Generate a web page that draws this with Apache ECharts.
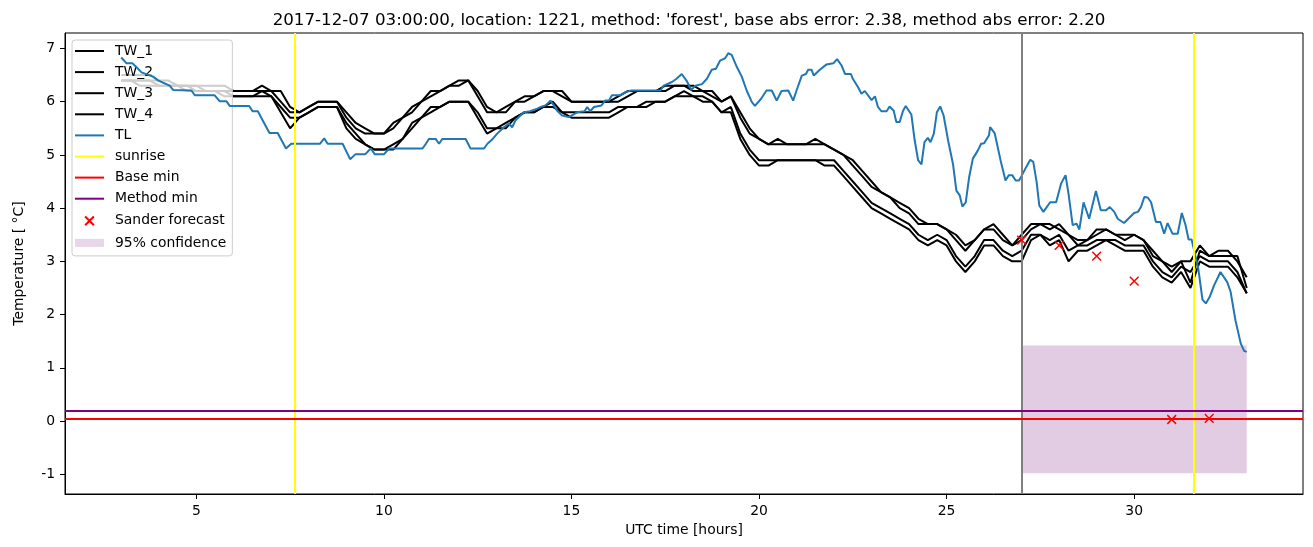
<!DOCTYPE html>
<html><head><meta charset="utf-8">
<script src="https://cdn.jsdelivr.net/npm/echarts@6/dist/echarts.min.js"></script>
<style>html,body{margin:0;padding:0;background:#fff}#c{width:1313px;height:547px}</style>
</head><body><div id="c"></div>
<script>
// ---- data ----
const twStart = 3, twStep = 0.25; // TW sampling: every 15 min from 03 h
const tw1 = [6.5,6.5,6.5,6.5, 6.4,6.4,6.3,6.3, 6.3,6.3,6.3,6.3, 6.2,6.2,6.2,6.3, 6.2,6.2,5.9,5.8,
  5.9,6.0,6.0,6.0, 5.7,5.5,5.4,5.4, 5.4,5.6,5.7,5.9, 6.0,6.2,6.2,6.3, 6.4,6.4,6.1,5.8,
  5.8,5.9,6.0,6.1, 6.1,6.2,6.2,6.1, 6.0,6.0,6.0,6.0, 6.0,6.1,6.2,6.2, 6.2,6.2,6.3,6.3,
  6.3,6.2,6.2,6.1, 6.0,6.1,5.7,5.4, 5.3,5.2,5.3,5.2, 5.2,5.2,5.3,5.2, 5.1,5.0,4.8,4.6,
  4.4,4.3,4.2,4.0, 3.9,3.7,3.7,3.7, 3.6,3.4,3.2,3.4, 3.6,3.6,3.4,3.3, 3.5,3.7,3.7,3.6,
  3.7,3.5,3.4,3.4, 3.6,3.6,3.5,3.5, 3.5,3.4,3.1,3.0, 2.8,3.0,3.0,3.3, 3.1,3.2,3.2,3.0, 2.7];
const tw2 = [6.4,6.4,6.4,6.4, 6.4,6.3,6.3,6.3, 6.2,6.2,6.2,6.2, 6.2,6.2,6.2,6.2, 6.2,6.0,5.8,5.8,
  5.9,6.0,6.0,6.0, 5.8,5.6,5.5,5.4, 5.4,5.5,5.7,5.8, 6.0,6.1,6.2,6.3, 6.3,6.4,6.2,5.9,
  5.8,5.8,6.0,6.0, 6.1,6.2,6.2,6.2, 6.0,6.0,6.0,6.0, 6.0,6.0,6.1,6.2, 6.2,6.2,6.2,6.3,
  6.3,6.3,6.2,6.2, 6.0,6.1,5.8,5.5, 5.3,5.2,5.2,5.2, 5.2,5.2,5.2,5.2, 5.1,5.0,4.9,4.7,
  4.5,4.3,4.2,4.1, 4.0,3.8,3.7,3.7, 3.6,3.5,3.3,3.4, 3.6,3.7,3.5,3.3, 3.4,3.6,3.7,3.7,
  3.6,3.5,3.3,3.4, 3.5,3.6,3.5,3.4, 3.5,3.4,3.2,3.0, 2.9,3.0,2.6,3.2, 3.1,3.1,3.1,3.1, 2.5];
const tw3 = [6.4,6.4,6.4,6.4, 6.3,6.3,6.3,6.3, 6.3,6.2,6.2,6.2, 6.1,6.1,6.1,6.2, 6.1,5.9,5.7,5.7,
  5.8,5.9,5.9,5.9, 5.6,5.4,5.2,5.1, 5.1,5.2,5.3,5.6, 5.7,5.9,5.9,6.0, 6.0,6.0,5.8,5.5,
  5.5,5.6,5.7,5.8, 5.8,5.9,6.0,5.8, 5.8,5.8,5.8,5.8, 5.8,5.9,5.9,5.9, 6.0,6.0,6.0,6.1,
  6.2,6.1,6.1,6.0, 5.8,5.9,5.4,5.1, 4.9,4.9,4.9,4.9, 4.9,4.9,4.9,4.9, 4.9,4.7,4.5,4.3,
  4.1,4.0,3.9,3.8, 3.7,3.5,3.4,3.5, 3.4,3.1,2.9,3.1, 3.4,3.4,3.2,3.1, 3.2,3.5,3.5,3.4,
  3.5,3.2,3.3,3.3, 3.4,3.4,3.4,3.3, 3.3,3.3,3.0,2.8, 2.7,2.9,2.8,3.1, 3.0,3.0,3.0,2.8, 2.4];
const tw4 = [6.4,6.4,6.3,6.3, 6.3,6.3,6.3,6.2, 6.2,6.2,6.2,6.1, 6.1,6.1,6.1,6.1, 6.1,5.8,5.5,5.7,
  5.8,5.9,5.9,5.9, 5.5,5.3,5.2,5.1, 5.1,5.1,5.3,5.5, 5.7,5.8,5.9,6.0, 6.0,6.0,5.7,5.4,
  5.5,5.5,5.7,5.8, 5.8,5.9,5.9,5.8, 5.7,5.7,5.7,5.7, 5.7,5.8,5.9,5.9, 5.9,6.0,6.0,6.1,
  6.1,6.1,6.0,6.0, 5.8,5.8,5.3,5.0, 4.8,4.8,4.9,4.9, 4.9,4.9,4.9,4.8, 4.8,4.6,4.4,4.2,
  4.0,3.9,3.8,3.7, 3.6,3.4,3.3,3.4, 3.3,3.0,2.8,3.0, 3.3,3.3,3.1,3.0, 3.0,3.4,3.5,3.3,
  3.4,3.0,3.2,3.2, 3.3,3.4,3.3,3.2, 3.2,3.2,2.9,2.7, 2.6,2.8,2.5,3.0, 2.9,2.9,2.9,2.7, 2.4];
const tlHours = [3.0,3.14,3.3,3.4,3.54,3.85,3.98,4.29,4.38,4.87,4.96,5.49,5.62,5.8,5.89,6.41,6.5,6.64,6.8,6.95,
  7.17,7.39,7.53,8.3,8.41,8.5,8.9,9.1,9.24,9.5,9.65,9.76,10.0,10.14,11.03,11.12,11.2,11.38,11.47,11.56,
  12.18,12.31,12.67,12.76,12.9,13.02,13.2,13.33,13.42,13.51,13.64,13.73,13.9,14.09,14.18,14.31,14.44,14.53,14.62,14.75,
  14.93,15.15,15.35,15.42,15.5,15.6,15.8,15.9,16.0,16.08,16.3,16.44,16.6,17.37,17.46,17.68,17.8,17.94,18.08,18.2,
  18.3,18.48,18.61,18.74,18.85,18.96,19.1,19.18,19.27,19.41,19.54,19.67,19.81,19.89,20.05,20.2,20.34,20.47,20.6,20.78,
  20.91,21.0,21.14,21.25,21.31,21.4,21.46,21.62,21.8,21.98,22.08,22.2,22.29,22.45,22.5,22.64,22.73,22.82,23.0,23.09,
  23.17,23.26,23.4,23.48,23.59,23.66,23.75,23.84,23.91,24.06,24.15,24.24,24.33,24.41,24.5,24.57,24.66,24.74,24.83,24.92,
  25.04,25.17,25.26,25.35,25.42,25.51,25.6,25.7,25.83,25.92,26.0,26.13,26.16,26.28,26.37,26.45,26.57,26.66,26.75,26.84,
  26.93,27.01,27.12,27.23,27.31,27.4,27.47,27.58,27.76,27.92,28.05,28.17,28.25,28.36,28.46,28.54,28.65,28.8,28.98,29.11,
  29.25,29.35,29.47,29.56,29.73,29.87,30.0,30.1,30.18,30.27,30.36,30.45,30.58,30.7,30.8,30.89,31.02,31.16,31.27,31.37,
  31.45,31.53,31.64,31.71,31.82,31.91,32.01,32.13,32.3,32.48,32.57,32.7,32.84,32.93,33.0];
const tlValues = [6.83,6.72,6.72,6.65,6.55,6.47,6.4,6.3,6.22,6.21,6.12,6.12,6.01,6.01,5.92,5.92,5.82,5.82,5.61,5.41,
  5.41,5.12,5.21,5.21,5.31,5.21,5.21,4.92,5.01,5.01,5.12,5.01,5.01,5.12,5.12,5.21,5.3,5.3,5.21,5.3,
  5.3,5.12,5.12,5.21,5.3,5.4,5.52,5.59,5.52,5.65,5.74,5.8,5.82,5.87,5.9,5.93,6.02,5.93,5.83,5.74,
  5.71,5.8,5.82,5.9,5.82,5.9,5.93,6.02,6.02,6.12,6.12,6.18,6.21,6.21,6.3,6.37,6.43,6.52,6.38,6.22,
  6.3,6.33,6.43,6.6,6.62,6.77,6.82,6.91,6.88,6.65,6.47,6.21,5.99,5.92,6.05,6.21,6.21,6.02,6.2,6.21,
  6.02,6.21,6.49,6.52,6.6,6.6,6.49,6.6,6.7,6.72,6.8,6.68,6.52,6.52,6.43,6.27,6.15,6.2,6.03,6.1,
  5.9,5.82,5.82,5.91,5.83,5.62,5.62,5.83,5.92,5.76,5.27,4.9,4.82,5.24,5.32,5.24,5.4,5.8,5.91,5.74,
  5.27,4.83,4.33,4.24,4.03,4.11,4.58,4.93,5.08,5.21,5.22,5.37,5.52,5.41,5.12,4.86,4.52,4.62,4.62,4.52,
  4.52,4.62,4.77,4.91,4.87,4.49,4.05,3.93,4.11,4.11,4.46,4.62,4.27,3.68,3.71,3.6,4.11,3.8,4.32,3.96,
  3.96,4.02,3.93,3.8,3.72,3.82,3.91,3.93,4.02,4.21,4.2,4.11,3.74,3.74,3.52,3.72,3.52,3.52,3.91,3.68,
  3.41,3.41,3.08,2.86,2.28,2.21,2.33,2.55,2.8,2.61,2.43,1.89,1.46,1.32,1.3];
const sunriseHours = [7.63, 31.6];
const forecastStartHour = [27.0];
const baseMin = [0.04];
const methodMin = [0.2];
const sanderHours = [27, 28, 29, 30, 31, 32];
const sanderValues = [3.4, 3.3, 3.1, 2.63, 0.03, 0.05];
const confHours = [27.0, 33.0];
const confRange = [-0.98, 1.42];
const xTicks = [5, 10, 15, 20, 25, 30];
const yTicks = [-1, 0, 1, 2, 3, 4, 5, 6, 7];

// ---- chart ----
const FONT = 'DejaVu Sans';
const FS = 13.9;
const LW = 2;
const twSeries = [tw1, tw2, tw3, tw4].map((arr, k) => ({
  name: 'TW_' + (k + 1), type: 'line', symbol: 'none', z: 3,
  itemStyle: {color: '#000'}, lineStyle: {color: '#000', width: LW},
  data: arr.map((v, i) => [twStart + i * twStep, v])
}));
const crossPath = 'path://M-7,-7M0,0L10,10M10,0L0,10M17,17';
const crossLegend = 'path://M-3,-3M0,0L10,10M10,0L0,10M13,13';
const lineIcon = 'path://M0,0M0,6L29,6L29,8L0,8ZM29,14';
const chart = echarts.init(document.getElementById('c'), null, {renderer: 'canvas'});
chart.setOption({
  animation: false,
  backgroundColor: '#fff',
  textStyle: {fontFamily: FONT, color: '#000'},
  title: {
    text: "2017-12-07 03:00:00, location: 1221, method: 'forest', base abs error: 2.38, method abs error: 2.20",
    left: 684, top: 7, textAlign: 'center',
    textStyle: {fontFamily: FONT, fontSize: 16.7, fontWeight: 'normal', color: '#000'}
  },
  grid: {left: 65, right: 10, top: 33, bottom: 53, show: true, borderColor: '#000', borderWidth: 1, backgroundColor: 'transparent'},
  legend: {
    orient: 'vertical', left: 72, top: 40,
    padding: [4, 6, 6, 3], itemGap: 7.1, itemWidth: 29, itemHeight: 14,
    backgroundColor: 'rgba(255,255,255,0.8)', borderColor: '#cccccc', borderWidth: 1, borderRadius: 3,
    textStyle: {fontFamily: FONT, fontSize: FS, lineHeight: 14, color: '#000', padding: [0, 0, 0, 6]},
    data: [
      {name: 'TW_1', icon: lineIcon}, {name: 'TW_2', icon: lineIcon}, {name: 'TW_3', icon: lineIcon},
      {name: 'TW_4', icon: lineIcon}, {name: 'TL', icon: lineIcon},
      {name: 'sunrise', icon: lineIcon}, {name: 'Base min', icon: lineIcon}, {name: 'Method min', icon: lineIcon},
      {name: 'Sander forecast', icon: crossLegend},
      {name: '95% confidence', icon: 'path://M0,0M0,3L29,3L29,11L0,11ZM29,14'}
    ]
  },
  xAxis: {
    type: 'value', min: 1.5, max: 34.5,
    name: 'UTC time [hours]', nameLocation: 'middle', nameGap: 29,
    nameTextStyle: {fontFamily: FONT, fontSize: FS, color: '#000'},
    axisLine: {show: true, onZero: false, lineStyle: {color: '#000', width: 1}},
    axisTick: {show: true, length: 5, customValues: xTicks, lineStyle: {color: '#000'}},
    axisLabel: {customValues: xTicks, margin: 10, fontFamily: FONT, fontSize: FS, color: '#000'},
    splitLine: {show: false}
  },
  yAxis: {
    type: 'value', min: -1.37, max: 7.29,
    name: 'Temperature [ °C]', nameLocation: 'middle', nameGap: 39, nameRotate: 90,
    nameTextStyle: {fontFamily: FONT, fontSize: FS, color: '#000'},
    axisLine: {show: true, onZero: false, lineStyle: {color: '#000', width: 1}},
    axisTick: {show: true, length: 5, customValues: yTicks, lineStyle: {color: '#000'}},
    axisLabel: {customValues: yTicks, margin: 10, fontFamily: FONT, fontSize: FS, color: '#000'},
    splitLine: {show: false}
  },
  series: [
    {
      name: '95% confidence', type: 'scatter', data: [], z: 1,
      itemStyle: {color: '#e2cce3'},
      markArea: {silent: true, itemStyle: {color: '#e2cce3', opacity: 1},
        data: [[{xAxis: confHours[0], yAxis: confRange[0]}, {xAxis: confHours[1], yAxis: confRange[1]}]]}
    },
    ...twSeries,
    {
      name: 'TL', type: 'line', symbol: 'none', z: 4,
      itemStyle: {color: '#1f77b4'}, lineStyle: {color: '#1f77b4', width: LW},
      data: tlHours.map((h, i) => [h, tlValues[i]])
    },
    {
      name: 'forecast start', type: 'line', symbol: 'none', data: [], z: 5,
      itemStyle: {color: '#808080'}, lineStyle: {color: '#808080'},
      markLine: {silent: true, symbol: ['none', 'none'], label: {show: false},
        lineStyle: {color: '#808080', width: LW, type: 'solid'},
        data: forecastStartHour.map(h => ({xAxis: h}))}
    },
    {
      name: 'sunrise', type: 'line', symbol: 'none', data: [], z: 5,
      itemStyle: {color: '#ffff00'}, lineStyle: {color: '#ffff00', width: LW},
      markLine: {silent: true, symbol: ['none', 'none'], label: {show: false},
        lineStyle: {color: '#ffff00', width: LW, type: 'solid'},
        data: sunriseHours.map(h => ({xAxis: h}))}
    },
    {
      name: 'Base min', type: 'line', symbol: 'none', data: [], z: 5,
      itemStyle: {color: '#ff0000'}, lineStyle: {color: '#ff0000', width: LW},
      markLine: {silent: true, symbol: ['none', 'none'], label: {show: false},
        lineStyle: {color: '#ff0000', width: LW, type: 'solid'},
        data: baseMin.map(v => ({yAxis: v}))}
    },
    {
      name: 'Method min', type: 'line', symbol: 'none', data: [], z: 5,
      itemStyle: {color: '#800080'}, lineStyle: {color: '#800080', width: LW},
      markLine: {silent: true, symbol: ['none', 'none'], label: {show: false},
        lineStyle: {color: '#800080', width: LW, type: 'solid'},
        data: methodMin.map(v => ({yAxis: v}))}
    },
    {
      name: 'Sander forecast', type: 'scatter', symbol: crossPath, symbolSize: 21, z: 6,
      itemStyle: {color: 'rgba(0,0,0,0)', borderColor: '#ff0000', borderWidth: 1.5, opacity: 1},
      data: sanderHours.map((h, i) => [h, sanderValues[i]])
    }
  ]
});
</script>
</body></html>
